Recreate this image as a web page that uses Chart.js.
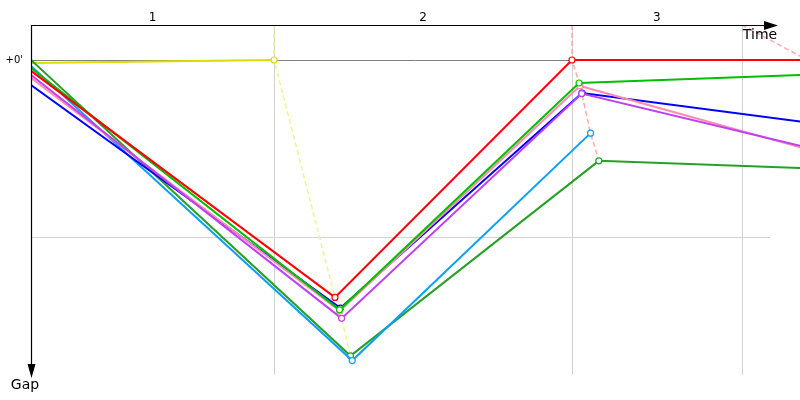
<!DOCTYPE html>
<html><head><meta charset="utf-8">
<script src="https://cdn.jsdelivr.net/npm/chart.js@4/dist/chart.umd.min.js"></script>
<style>html,body{margin:0;padding:0;background:#fff}</style>
</head><body>
<canvas id="c" width="800" height="400"></canvas>
<script>
// ---- data ----
const lapTimes = [82.4, 183.4, 241.0];          // leader lap-crossing times (grid lines)
const lapLabels = ['1', '2', '3'];
const gapGrid = [0, 60];
const gapLabels = ["+0'", ''];
const timeMin = 0, timeMax = 260.7;
const gapMin = -11.86, gapMax = 106.8;

const seriesNames = ['Red', 'Lime', 'Purple', 'Pink', 'Blue', 'Sky', 'Green', 'Yellow'];
const seriesColors = ['#ff0000', '#00c000', '#c040f0', '#ff8cb4', '#0000ff', '#0ca0f4', '#26a026', '#dcdc00'];
const redTimes    = [0, 103.05, 183.4, 263.2];  const redGaps    = [3.7, 80.5, 0, 0];
const limeTimes   = [0, 104.6, 185.8, 265.0];   const limeGaps   = [2.7, 84.7, 7.8, 4.9];
const purpleTimes = [0, 105.3, 186.7, 265.0];   const purpleGaps = [5.1, 87.6, 11.4, 30.1];
const pinkTimes   = [0, 104.7, 186.1, 265.0];   const pinkGaps   = [6.1, 85.1, 8.8, 30.8];
const blueTimes   = [0, 104.9, 186.8, 265.0];   const blueGaps   = [8.5, 84.1, 11.2, 21.4];
const skyTimes    = [0, 108.9, 189.7];          const skyGaps    = [2.0, 101.9, 24.8];
const greenTimes  = [0, 108.3, 192.5, 265.0];   const greenGaps  = [0, 100.3, 34.2, 36.8];
const yellowTimes = [0, 82.4];                  const yellowGaps = [1.0, 0];
const lapsDone = [3, 2, 2, 2, 2, 2, 2, 1];
const lapLineColors = ['#f2f294', '#ffaaaa', '#ffaaaa'];

const allTimes = [redTimes, limeTimes, purpleTimes, pinkTimes, blueTimes, skyTimes, greenTimes, yellowTimes];
const allGaps  = [redGaps, limeGaps, purpleGaps, pinkGaps, blueGaps, skyGaps, greenGaps, yellowGaps];

// ---- datasets ----
const datasets = [];
seriesNames.forEach((name, s) => {
  const pts = allTimes[s].map((t, i) => ({ x: t, y: allGaps[s][i] }));
  datasets.push({
    label: name, data: pts, showLine: true, tension: 0,
    borderColor: seriesColors[s], borderWidth: 2,
    pointBackgroundColor: '#ffffff', pointBorderColor: seriesColors[s], pointBorderWidth: 1.2,
    pointRadius: pts.map((p, i) => (i >= 1 && i <= lapsDone[s]) ? 3 : 0),
    order: s + 1
  });
});
lapTimes.forEach((lt, k) => {
  const pts = [{ x: lt, y: gapMin }];
  const cross = [];
  seriesNames.forEach((n, s) => {
    if (lapsDone[s] >= k + 1) cross.push({ x: allTimes[s][k + 1], y: allGaps[s][k + 1] });
  });
  cross.sort((a, b) => a.y - b.y);
  datasets.push({
    label: 'Lap ' + lapLabels[k], data: pts.concat(cross), showLine: true, tension: 0,
    borderColor: lapLineColors[k], borderWidth: 1.5, borderDash: [5, 3],
    pointRadius: 0, order: 50
  });
});

// ---- decorations ----
const decor = {
  id: 'decor',
  beforeDatasetsDraw(chart) {
    const { ctx, chartArea: a, scales: { x, y } } = chart;
    ctx.save();
    ctx.lineWidth = 1;
    ctx.strokeStyle = '#d0d0d0';
    lapTimes.forEach(t => {
      const px = Math.round(x.getPixelForValue(t)) + 0.5;
      ctx.beginPath(); ctx.moveTo(px, a.top); ctx.lineTo(px, a.bottom); ctx.stroke();
    });
    gapGrid.forEach((g, i) => {
      const py = Math.round(y.getPixelForValue(g)) + 0.5;
      ctx.strokeStyle = i === 0 ? '#808080' : '#d4d4d4';
      ctx.beginPath(); ctx.moveTo(a.left, py); ctx.lineTo(i === 0 ? a.right : 770, py); ctx.stroke();
    });
    ctx.restore();
  },
  afterDatasetsDraw(chart) {
    const { ctx, chartArea: a, scales: { x, y } } = chart;
    ctx.save();
    ctx.strokeStyle = '#000'; ctx.fillStyle = '#000'; ctx.lineWidth = 1.2;
    // top time axis
    ctx.beginPath(); ctx.moveTo(a.left, a.top + 0.5); ctx.lineTo(766, a.top + 0.5); ctx.stroke();
    ctx.beginPath(); ctx.moveTo(778, a.top + 0.5); ctx.lineTo(764, a.top - 4); ctx.lineTo(764, a.top + 5); ctx.closePath(); ctx.fill();
    // left gap axis
    ctx.beginPath(); ctx.moveTo(a.left + 0.5, a.top); ctx.lineTo(a.left + 0.5, 366); ctx.stroke();
    ctx.beginPath(); ctx.moveTo(a.left + 0.5, 378); ctx.lineTo(a.left - 3.5, 364); ctx.lineTo(a.left + 4.5, 364); ctx.closePath(); ctx.fill();
    // lap labels
    ctx.font = '12px "DejaVu Sans"'; ctx.textAlign = 'center'; ctx.textBaseline = 'middle';
    const bounds = [timeMin].concat(lapTimes);
    lapLabels.forEach((l, k) => {
      const mid = (bounds[k] + bounds[k + 1]) / 2;
      ctx.fillText(l, x.getPixelForValue(mid), 18);
    });
    // gap labels
    ctx.font = '10px "DejaVu Sans"'; ctx.textAlign = 'right';
    gapGrid.forEach((g, i) => { if (gapLabels[i]) ctx.fillText(gapLabels[i], a.left - 8, y.getPixelForValue(g)); });
    // axis titles
    ctx.font = '14px "DejaVu Sans"'; ctx.textAlign = 'center';
    ctx.fillText('Time', 760, 35);
    ctx.fillText('Gap', 25, 385);
    ctx.restore();
  }
};

new Chart(document.getElementById('c'), {
  type: 'scatter',
  data: { datasets },
  options: {
    responsive: false, animation: false,
    layout: { autoPadding: false, padding: { left: 31, top: 25, right: 0, bottom: 25 } },
    scales: {
      x: { type: 'linear', display: false, min: timeMin, max: timeMax },
      y: { type: 'linear', display: false, min: gapMin, max: gapMax, reverse: true }
    },
    plugins: { legend: { display: false }, tooltip: { enabled: false } }
  },
  plugins: [decor]
});
</script>
</body></html>
